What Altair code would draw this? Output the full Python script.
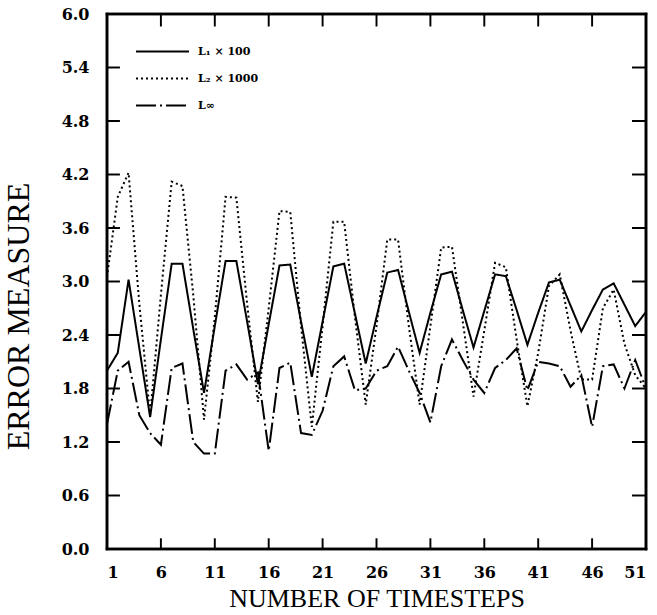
import altair as alt
import pandas as pd

steps = list(range(1, 52))

l1_x100 = [2.00, 2.20, 3.02, 2.25, 1.48, 2.35, 3.20, 3.20, 2.47, 1.75,
           2.50, 3.23, 3.23, 2.55, 1.85, 2.52, 3.18, 3.19, 2.55, 1.93,
           2.55, 3.17, 3.20, 2.64, 2.08, 2.60, 3.10, 3.13, 2.66, 2.20,
           2.65, 3.08, 3.11, 2.68, 2.26, 2.67, 3.08, 3.06, 2.68, 2.29,
           2.65, 2.99, 3.02, 2.73, 2.44, 2.68, 2.91, 2.98, 2.74, 2.50,
           2.66]

l2_x1000 = [3.05, 3.95, 4.22, 2.75, 1.50, 2.85, 4.12, 4.07, 2.85, 1.45,
            2.60, 3.95, 3.94, 2.75, 1.65, 2.70, 3.79, 3.78, 2.50, 1.37,
            2.50, 3.67, 3.67, 2.60, 1.62, 2.50, 3.47, 3.47, 2.50, 1.62,
            2.50, 3.38, 3.39, 2.55, 1.71, 2.45, 3.21, 3.16, 2.35, 1.60,
            2.20, 2.95, 3.08, 2.45, 1.90, 1.90, 2.70, 2.91, 2.30, 1.95,
            1.80]

l_inf = [1.40, 2.00, 2.10, 1.50, 1.30, 1.17, 2.03, 2.08, 1.20, 1.07,
         1.07, 2.00, 2.07, 1.90, 1.98, 1.10, 2.03, 2.09, 1.30, 1.28,
         1.55, 2.05, 2.16, 1.78, 1.80, 2.00, 2.05, 2.27, 2.00, 1.75,
         1.42, 2.05, 2.35, 2.12, 1.90, 1.75, 2.03, 2.12, 2.25, 1.78,
         2.10, 2.08, 2.05, 1.82, 1.95, 1.37, 2.05, 2.07, 1.80, 2.12,
         1.80]

series_names = ["L\u2081 \u00d7 100", "L\u2082 \u00d7 1000", "L\u221e"]
x_tick_values = [1, 6, 11, 16, 21, 26, 31, 36, 41, 46, 51]
y_tick_values = [0.0, 0.6, 1.2, 1.8, 2.4, 3.0, 3.6, 4.2, 4.8, 5.4, 6.0]

rows = []
for name, vals in zip(series_names, [l1_x100, l2_x1000, l_inf]):
    for s, v in zip(steps, vals):
        rows.append({"series": name, "step": s, "value": v})
df = pd.DataFrame(rows)

# frame edges and inward tick marks as thin filled bars on the data scales
x0, x1 = x_tick_values[0], x_tick_values[-1]
y0, y1 = y_tick_values[0], y_tick_values[-1]
hx, hy = 0.12, 0.014   # half thickness in data units
bars = [
    {"step": x0 - hx, "step2": x1 + hx, "value": y0 - hy, "value2": y0 + hy},
    {"step": x0 - hx, "step2": x1 + hx, "value": y1 - hy, "value2": y1 + hy},
    {"step": x0 - hx, "step2": x0 + hx, "value": y0 - hy, "value2": y1 + hy},
    {"step": x1 - hx, "step2": x1 + hx, "value": y0 - hy, "value2": y1 + hy},
]
for s in x_tick_values[1:-1]:
    bars.append({"step": s - 0.09, "step2": s + 0.09, "value": y0, "value2": y0 + 0.12})
    bars.append({"step": s - 0.09, "step2": s + 0.09, "value": y1 - 0.14, "value2": y1})
for v in y_tick_values[1:-1]:
    bars.append({"step": x0, "step2": x0 + 1.2, "value": v - 0.011, "value2": v + 0.011})
    bars.append({"step": x1 - 1.3, "step2": x1, "value": v - 0.011, "value2": v + 0.011})
bars_df = pd.DataFrame(bars)

x_scale = alt.Scale(domain=[1, 51], nice=False, zero=False)
y_scale = alt.Scale(domain=[0, 6], nice=False, zero=True)

serif = "Liberation Serif"
label_font = "DejaVu Serif"

lines = alt.Chart(df).mark_line(color="black", strokeWidth=2).encode(
    x=alt.X("step:Q", scale=x_scale,
            axis=alt.Axis(values=x_tick_values, title="NUMBER OF TIMESTEPS",
                          ticks=False, domain=False, grid=False,
                          labelPadding=15, titlePadding=5, format="d")),
    y=alt.Y("value:Q", scale=y_scale,
            axis=alt.Axis(values=y_tick_values, title="ERROR MEASURE",
                          ticks=False, domain=False, grid=False,
                          labelPadding=18, format=".1f",
                          titleX=-72, titleY=302)),
    strokeDash=alt.StrokeDash(
        "series:N",
        scale=alt.Scale(domain=series_names,
                        range=[[1, 0], [2, 3], [20, 4, 2, 4]]),
        legend=alt.Legend(title=None, orient="none", legendX=41, legendY=23,
                          symbolType="M-2,0H2", symbolSize=702,
                          symbolStrokeWidth=2, symbolStrokeColor="black",
                          labelFont=label_font, labelFontSize=11,
                          labelFontWeight="bold", labelColor="black",
                          rowPadding=7, labelOffset=21)),
)

frame = alt.Chart(bars_df).mark_rect(color="black").encode(
    x=alt.X("step:Q", scale=x_scale), x2=alt.X2("step2"),
    y=alt.Y("value:Q", scale=y_scale), y2=alt.Y2("value2"),
)

chart = alt.layer(lines, frame).properties(
    width=539, height=535,
    autosize=alt.AutoSizeParams(type="none"),
    padding={"left": 107, "top": 14, "right": 11, "bottom": 66},
    background="white",
).configure_view(
    stroke="black", strokeWidth=2.5
).configure_axis(
    labelFont=label_font, labelFontSize=16, labelFontWeight="bold",
    labelColor="black", titleFont=serif, titleFontWeight="normal",
    titleColor="black"
).configure_axisX(
    titleFontSize=26
).configure_axisY(
    titleFontSize=32
)

chart.save("out.html", embed_options={"renderer": "svg", "actions": False})
